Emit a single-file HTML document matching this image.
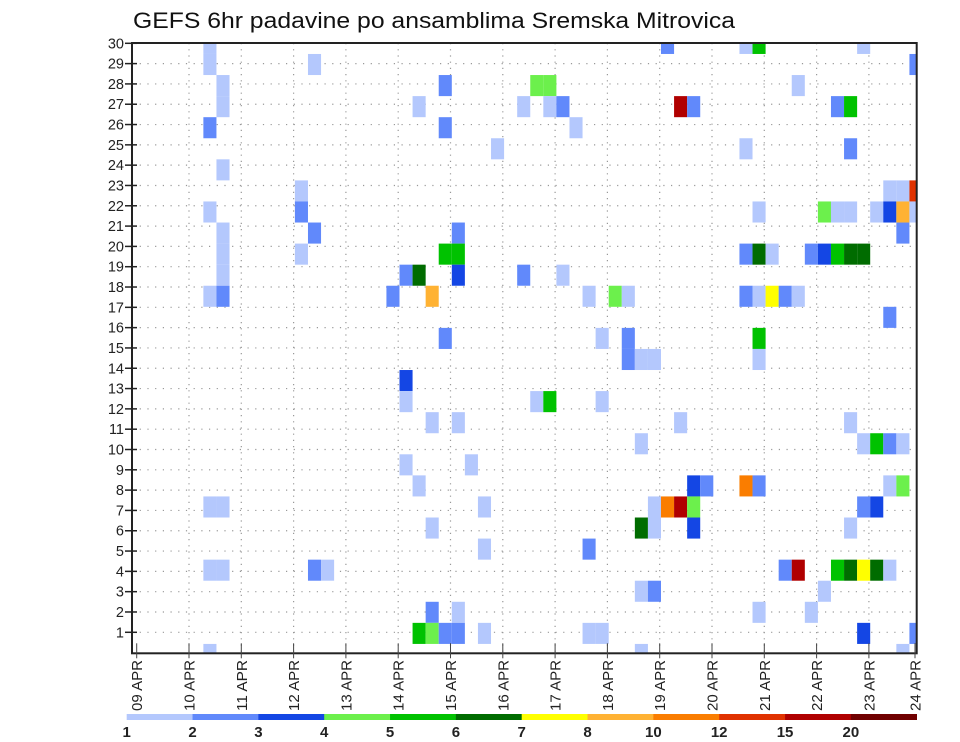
<!DOCTYPE html>
<html><head><meta charset="utf-8"><style>
html,body{margin:0;padding:0;background:#fff;}
svg{display:block;font-family:"Liberation Sans",sans-serif;}
</style></head><body>
<svg id="chart" width="960" height="742" viewBox="0 0 960 742" xmlns="http://www.w3.org/2000/svg">
<defs><clipPath id="plotclip"><rect x="132" y="43" width="784.7" height="610.3"/></clipPath></defs>
<rect x="0" y="0" width="960" height="742" fill="#fff"/>
<text x="133" y="28" font-size="22" textLength="602" lengthAdjust="spacingAndGlyphs" fill="#111">GEFS 6hr padavine po ansamblima Sremska Mitrovica</text>
<g id="grid"></g>
<g id="cells" clip-path="url(#plotclip)"></g>
<rect x="132" y="43" width="784.7" height="610.3" fill="none" stroke="#222" stroke-width="2"/>
<g id="yaxis"></g>
<g id="xaxis"></g>
<g id="legend"></g>
</svg>
<script>
// 6-hour step index (0 = 09 APR 00Z), ensemble row index (0 = top), precipitation value (mm)
const steps = [5,5,5,5,5,5,5,5, 6,6,6,6,6,6,6,6,6, 12,12,12, 13,13,13, 14, 19, 20,20,20,20, 21,21,21,21, 22,22,22,22,22, 23,23,23,23,23, 24,24,24,24,24,24, 25, 26,26,26, 27, 29,29, 30,30, 31,31,31, 32,32, 33, 34,34,34, 35,35,35, 36, 37,37,37, 38,38,38,38,38, 39,39,39,39, 40,40, 41,41,41, 42,42,42,42, 43, 46,46,46,46,46, 47,47,47,47,47,47,47,47, 48,48, 49,49, 50,50,50, 51,51, 52,52,52, 53,53,53,53, 54,54,54,54,54,54,54, 55,55,55,55,55,55, 56,56,56,56, 57,57,57,57,57,57, 58,58,58,58,58,58, 59,59,59,59];
const rows  = [0,1,4,8,12,22,25,29, 2,3,6,9,10,11,12,22,25, 7,8,10, 1,9,25, 25, 12, 11,16,17,20, 3,11,21,28, 12,18,23,27,28, 2,4,10,14,28, 9,10,11,18,27,28, 20, 22,24,28, 5, 3,11, 2,17, 2,3,17, 3,11, 4, 12,24,28, 14,17,28, 12, 12,14,15, 15,19,23,26,29, 15,22,23,26, 0,22, 3,18,22, 3,21,22,23, 21, 0,5,10,12,21, 0,8,10,12,14,15,21,27, 10,12, 12,25, 2,12,25, 10,27, 8,10,26, 3,8,10,25, 3,5,8,10,18,23,25, 0,10,19,22,25,28, 8,19,22,25, 7,8,13,19,21,25, 7,8,9,19,21,29, 1,7,8,28];
const values = [1.5,1.5,2.5,1.5,1.5,1.5,1.5,1.5, 1.5,1.5,1.5,1.5,1.5,1.5,2.5,1.5,1.5, 1.5,2.5,1.5, 1.5,2.5,2.5, 1.5, 2.5, 2.5,3.5,1.5,1.5, 1.5,6.5,1.5,5.5, 9,1.5,1.5,2.5,4.5, 2.5,2.5,5.5,2.5,2.5, 2.5,5.5,3.5,1.5,1.5,2.5, 1.5, 1.5,1.5,1.5, 1.5, 1.5,2.5, 4.5,1.5, 4.5,1.5,5.5, 2.5,1.5, 1.5, 1.5,2.5,1.5, 1.5,1.5,1.5, 4.5, 1.5,2.5,2.5, 1.5,1.5,6.5,1.5,1.5, 1.5,1.5,1.5,2.5, 2.5,11, 17,1.5,17, 2.5,3.5,4.5,3.5, 2.5, 1.5,1.5,2.5,2.5,11, 5.5,1.5,6.5,1.5,5.5,1.5,2.5,1.5, 1.5,7.5, 2.5,2.5, 1.5,1.5,17, 2.5,1.5, 4.5,3.5,1.5, 2.5,1.5,5.5,5.5, 5.5,2.5,1.5,6.5,1.5,1.5,6.5, 1.5,6.5,1.5,2.5,7.5,3.5, 1.5,5.5,3.5,6.5, 1.5,3.5,2.5,2.5,1.5,1.5, 1.5,9,2.5,1.5,4.5,1.5, 2.5,13.5,1.5,2.5];
const levels = [1,2,3,4,5,6,7,8,10,12,15,20];
const levelLabels = ["1","2","3","4","5","6","7","8","10","12","15","20"];
const memberLabels = ["1","2","3","4","5","6","7","8","9","10","11","12","13","14","15","16","17","18","19","20","21","22","23","24","25","26","27","28","29","30"];
const dateLabels = ["09 APR","10 APR","11 APR","12 APR","13 APR","14 APR","15 APR","16 APR","17 APR","18 APR","19 APR","20 APR","21 APR","22 APR","23 APR","24 APR"];
const colors = ["#b4c8fd","#6189fb","#1446e4","#6cf04c","#00c200","#006c00","#ffff00","#ffb233","#fa7d00","#e03200","#b00000","#700000"];

const NS = "http://www.w3.org/2000/svg";
const PX0 = 132, PX1 = 916.7, PY0 = 43, PY1 = 653.3;
const STEP = 52.3 / 4, CELLH = 21.07;
function xStep(k){ return 138 + STEP * k; }
function yRow(j){ return 32.9 + CELLH * j; }
function xDay(d){ return 136.7 + 52.3 * d; }
function yLabel(r){ return 43.3 + (30 - r) * 20.31; }
function colorFor(v){ let c = colors[0]; for (let i = 0; i < levels.length; i++){ if (v >= levels[i]) c = colors[i]; } return c; }
function mk(tag, attrs, parent){ const e = document.createElementNS(NS, tag); for (const a in attrs) e.setAttribute(a, attrs[a]); parent.appendChild(e); return e; }

const grid = document.getElementById('grid');
for (let r = 1; r <= 29; r++){
  const y = yLabel(r);
  const l = mk('line', {x1:PX0, x2:PX1, y1:y, y2:y, stroke:'#999', 'stroke-width':1.2, 'stroke-dasharray':'1.2,6.5'}, grid);
  
  
}
for (let d = 1; d <= 14; d++){
  const x = xDay(d);
  const l = mk('line', {x1:x, x2:x, y1:PY0, y2:PY1, stroke:'#999', 'stroke-width':1.2, 'stroke-dasharray':'1.2,5'}, grid);
  
  
}

const cells = document.getElementById('cells');
for (let i = 0; i < steps.length; i++){
  const r = mk('rect', {x:xStep(steps[i]), y:yRow(rows[i]), width:STEP, height:CELLH, fill:colorFor(values[i])}, cells);
  
  
}

const yaxis = document.getElementById('yaxis');
for (let r = 1; r <= 30; r++){
  const y = yLabel(r);
  const t = mk('line', {x1:125, x2:137, y1:y, y2:y, stroke:'#222', 'stroke-width':1.5}, yaxis);
  
  
  const tx = mk('text', {x:124, y:y+5, 'font-size':14.5, 'text-anchor':'end', fill:'#222'}, yaxis);
  tx.textContent = memberLabels[r-1];
  
  
}

const xaxis = document.getElementById('xaxis');
for (let d = 0; d < dateLabels.length; d++){
  const x = Math.min(xDay(d), 915);
  const t = mk('line', {x1:x, x2:x, y1:PY1-10, y2:PY1+5, stroke:'#444', 'stroke-width':1}, xaxis);
  
  
  const tx = mk('text', {x:0, y:0, 'font-size':15, fill:'#222', textLength:51, lengthAdjust:'spacingAndGlyphs', transform:'translate('+(x+5.5)+',711) rotate(-90)'}, xaxis);
  tx.textContent = dateLabels[d];
  
  
}

const legend = document.getElementById('legend');
const LX0 = 126.7, LW = (916.7 - 126.7) / levels.length;
for (let i = 0; i < levels.length; i++){
  const r = mk('rect', {x:LX0 + LW*i, y:714, width:LW+0.3, height:6, fill:colors[i]}, legend);
  
  
  const tx = mk('text', {x:LX0 + LW*i, y:737, 'font-size':15, 'font-weight':'bold', 'text-anchor':'middle', fill:'#222'}, legend);
  tx.textContent = levelLabels[i];
  
  
}
</script>
</body></html>
